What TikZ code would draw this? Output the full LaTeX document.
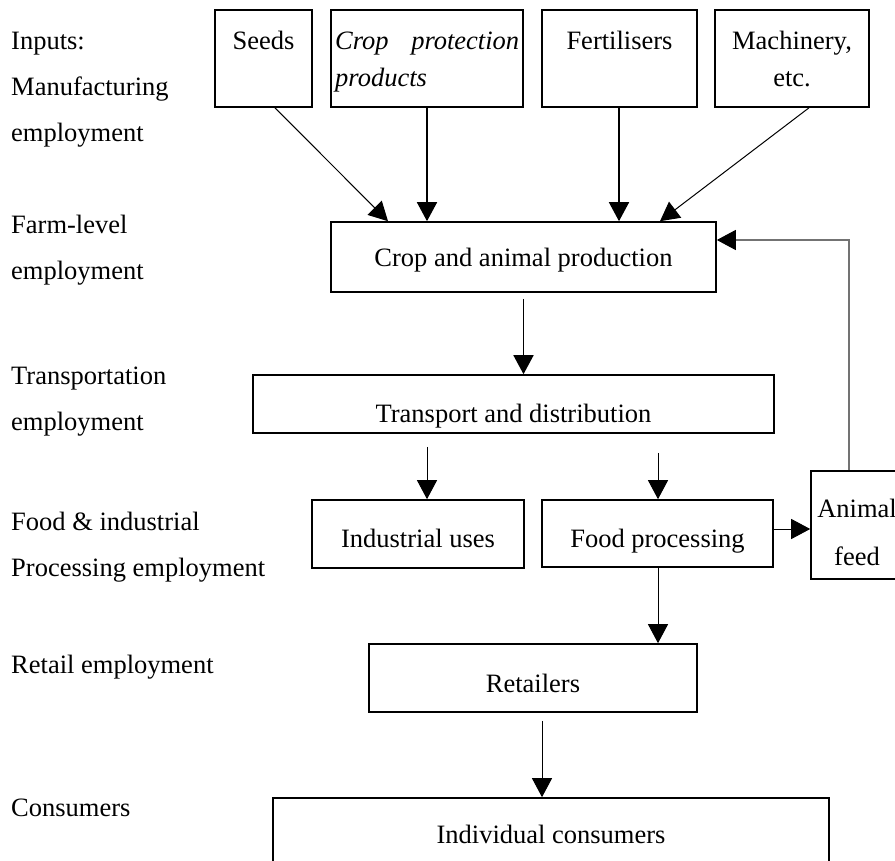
\documentclass[tikz,border=0pt]{standalone}
\usepackage{fontspec}
\setmainfont{Liberation Serif}
\usetikzlibrary{arrows.meta,calc}
\begin{document}
\begin{tikzpicture}[x=1pt,y=-1pt,
  box/.style={draw,line width=1.6pt,inner sep=0pt},
  txt/.style={anchor=base,inner sep=0pt,font=\fontsize{26.5}{30}\selectfont},
  mtxt/.style={anchor=north,inner sep=0pt,align=center,font=\fontsize{26.5}{30}\selectfont},
  lbl/.style={anchor=north west,inner sep=0pt,align=left,font=\fontsize{26.5}{46}\selectfont},
  tip/.style={-{Triangle[width=20pt,length=19pt]}},
  heavy/.style={tip,line width=1.6pt},
  light/.style={tip,line width=1pt},
  back/.style={line width=1.1pt,draw=black!55,-{Triangle[width=20pt,length=19pt,color=black]}}]
\useasboundingbox (0,0) rectangle (895,861);
\clip (0,0) rectangle (895,861);

% employment levels on the left
\node[lbl] (lInputs) at (11,32) {Inputs:\\Manufacturing\\employment};
\node[lbl] (lFarm) at (11,215) {Farm-level\\employment};
\node[lbl] (lTrans) at (11,367) {Transportation\\employment};
\node[lbl] (lProc) at (11,512) {Food \& industrial\\Processing employment};
\node[lbl] (lRetail) at (11,655) {Retail employment};
\node[lbl] (lCons) at (11,799) {Consumers};

% input boxes
\node[box,minimum width=97pt,minimum height=97pt] (seeds) at (263.5,58.5) {};
\node[box,minimum width=192pt,minimum height=97pt] (cpp) at (427,58.5) {};
\node[box,minimum width=155pt,minimum height=97pt] (fert) at (619.5,58.5) {};
\node[box,minimum width=154pt,minimum height=97pt] (mach) at (792,58.5) {};
\node[txt] (tSeeds) at (263.5,50) {Seeds};
\node[anchor=north west,inner sep=0pt,text width=184pt,align=justify,
      font=\fontsize{26.5}{37}\selectfont\itshape] (tCpp) at (335,32) {Crop protection products};
\node[txt] (tFert) at (619.5,50) {Fertilisers};
\node[mtxt,font=\fontsize{26.5}{37}\selectfont] (tMach) at (792,31) {Machinery,\\etc.};

% production chain
\node[box,minimum width=385pt,minimum height=70pt] (prod) at (523.5,257) {};
\node[txt] at (prod.center |- 0,267) {Crop and animal production};
\node[box,minimum width=521pt,minimum height=58pt] (trans) at (513.5,404) {};
\node[txt] at (trans.center |- 0,422) {Transport and distribution};
\node[box,minimum width=212pt,minimum height=68pt] (ind) at (418,534) {};
\node[txt] at (ind.center |- 0,547) {Industrial uses};
\node[box,minimum width=231pt,minimum height=67pt] (food) at (657.5,533.5) {};
\node[txt] at (food.center |- 0,547) {Food processing};
\node[box,minimum width=94pt,minimum height=108pt] (feed) at (858,525) {};
\node[mtxt,font=\fontsize{26.5}{48}\selectfont] at (857,499) {Animal\\feed};
\node[box,minimum width=328pt,minimum height=68pt] (retail) at (533,678) {};
\node[txt] at (retail.center |- 0,692) {Retailers};
\node[box,minimum width=556pt,minimum height=90pt] (cons) at (551,843) {};
\node[txt] at (cons.center |- 0,843) {Individual consumers};

% inputs into production
\draw[light] ([xshift=11.5pt]seeds.south) -- ([xshift=-135.5pt]prod.north);
\draw[heavy] (cpp.south) -- (cpp.south |- prod.north);
\draw[heavy] ([xshift=-0.5pt]fert.south) -- ([xshift=-0.5pt]fert.south |- prod.north);
\draw[light] ([xshift=17pt]mach.south) -- ([xshift=136.5pt]prod.north);

% flows down the chain
\draw[heavy] ([yshift=-6pt]prod.south) -- (prod.south |- trans.north);
\draw[light] ([xshift=-86.5pt,yshift=-13pt]trans.south) -- ([xshift=9pt]ind.north);
\draw[light] ([xshift=144.5pt,yshift=-19pt]trans.south) -- ([xshift=0.5pt]food.north);
\draw[light] ([yshift=4.5pt]food.east) -- ([yshift=4.5pt]food.east -| feed.west);
\draw[light] ([xshift=0.5pt]food.south) -- ([xshift=0.5pt]food.south |- retail.north);
\draw[light] ([xshift=9pt,yshift=-8pt]retail.south) -- ([xshift=-9pt]cons.north);

% feed returned to production
\draw[back] ([xshift=-9pt]feed.north) |- ([yshift=17pt]prod.east);
\end{tikzpicture}
\end{document}
